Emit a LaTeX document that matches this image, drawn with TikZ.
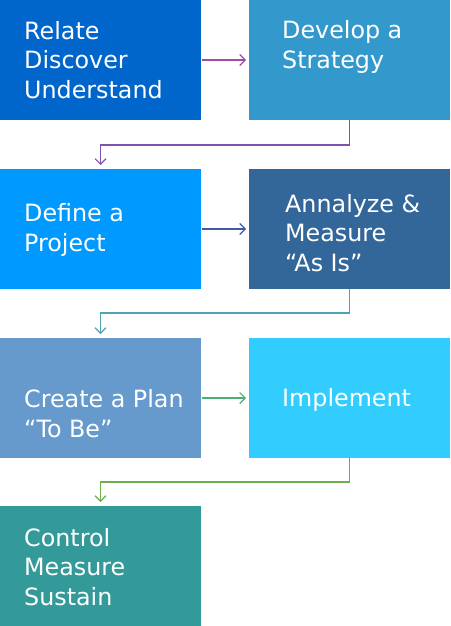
\documentclass[tikz,border=0pt]{standalone}
\usepackage{fontspec}
\setmainfont{DejaVu Sans}
\usetikzlibrary{arrows.meta,calc}
\definecolor{cRelate}{HTML}{0066CC}
\definecolor{cStrategy}{HTML}{3399CC}
\definecolor{cDefine}{HTML}{0099FF}
\definecolor{cAnalyze}{HTML}{336699}
\definecolor{cPlan}{HTML}{6699CC}
\definecolor{cImplement}{HTML}{33CCFF}
\definecolor{cControl}{HTML}{339999}
\definecolor{aPurple}{HTML}{A04AA8}
\definecolor{aViolet}{HTML}{7E52B0}
\definecolor{aNavy}{HTML}{3F5C9E}
\definecolor{aTeal}{HTML}{4FA3B3}
\definecolor{aMint}{HTML}{4DAE72}
\definecolor{aLeaf}{HTML}{6CB04E}

\begin{document}
\begin{tikzpicture}[
    x=1pt, y=1pt,
    >={Straight Barb[length=5.5pt,width=11pt]},
    box/.style={rectangle, anchor=north west, inner sep=0pt, outer sep=0pt,
                minimum width=201pt, minimum height=120pt},
    lbl/.style={anchor=west, align=left, inner sep=0pt, text=white,
                font=\fontsize{23.8pt}{29.8pt}\selectfont},
    flow/.style={->, line width=1.1pt, shorten <=1pt, shorten >=3pt},
    elbow/.style={->, line width=1.1pt, shorten >=4pt},
]

% ============================================================
% Page
% ============================================================
\useasboundingbox (0,0) rectangle (450,-626);

% ============================================================
% Boxes
% ============================================================
\node[box, fill=cRelate]    (relate)    at (0,0)      {};
\node[box, fill=cStrategy]  (strategy)  at (249,0)    {};
\node[box, fill=cDefine]    (define)    at (0,-169)   {};
\node[box, fill=cAnalyze]   (analyze)   at (249,-169) {};
\node[box, fill=cPlan]      (plan)      at (0,-338)   {};
\node[box, fill=cImplement] (implement) at (249,-338) {};
\node[box, fill=cControl]   (control)   at (0,-506)   {};

% Labels
\node[lbl] (relate-t)    at ($(relate.west)+(24,0)$)      {Relate\\Discover\\Understand};
\node[lbl] (strategy-t)  at ($(strategy.west)+(33,13)$)   {Develop a\\Strategy};
\node[lbl] (define-t)    at ($(define.west)+(24,-1)$)     {Define a\\Project};
\node[lbl] (analyze-t)   at ($(analyze.west)+(36,-4)$)    {Annalyze \&\\Measure\\“As Is”};
\node[lbl] (plan-t)      at ($(plan.west)+(24,-16)$)      {Create a Plan\\“To Be”};
\node[lbl] (implement-t) at ($(implement.west)+(33,-2)$)  {Implement};
\node[lbl] (control-t)   at ($(control.west)+(24,-1)$)    {Control\\Measure\\Sustain};

% ============================================================
% Connectors
% ============================================================
\draw[flow, aPurple]  (relate.east) -- (strategy.west);
\draw[elbow, aViolet] (strategy.south) -- ++(0,-25) -| (define.north);

\draw[flow, aNavy]    (define.east) -- (analyze.west);
\draw[elbow, aTeal]   (analyze.south) -- ++(0,-24) -| (plan.north);

\draw[flow, aMint]    (plan.east) -- (implement.west);
\draw[elbow, aLeaf]   (implement.south) -- ++(0,-24) -| (control.north);

\end{tikzpicture}
\end{document}
